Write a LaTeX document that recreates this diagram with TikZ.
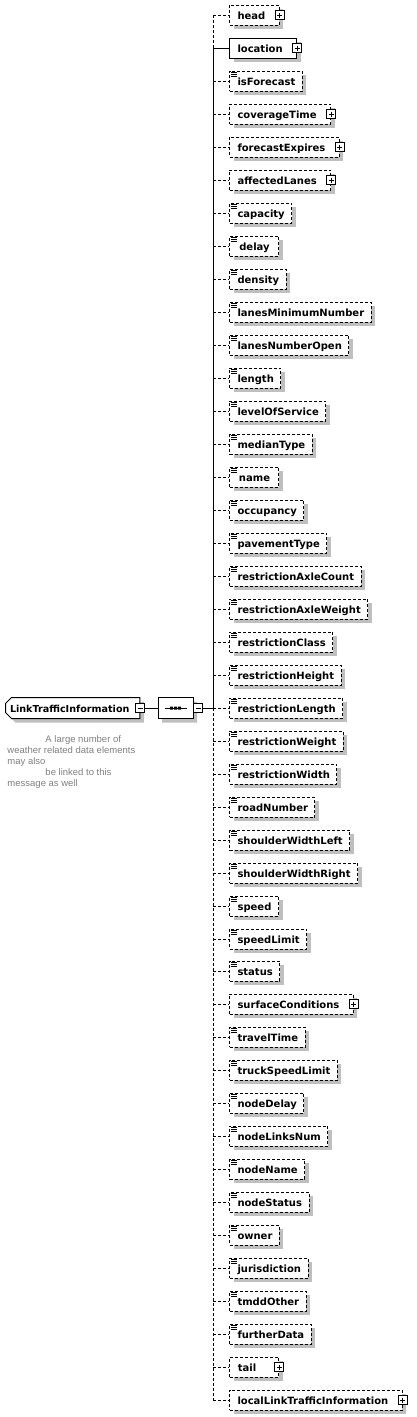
\documentclass[tikz,border=0pt]{standalone}
\usepackage{fontspec}
\setmainfont{DejaVu Sans}
\newfontfamily\notefont{Liberation Sans}
\usetikzlibrary{shapes.misc,shadows,positioning}

\begin{document}
\begin{tikzpicture}[
  x=1pt, y=-1pt, line width=1pt,
  boxshadow/.style={drop shadow={shadow xshift=4pt, shadow yshift=-4pt, fill=black!25, opacity=1}},
  elem/.style={
    rectangle, draw=black, fill=white, anchor=west, boxshadow,
    minimum width=49pt, minimum height=20pt, inner xsep=4pt, inner ysep=0pt,
    text height=9pt, text depth=1pt,
    font=\fontsize{10}{12}\selectfont\bfseries,
    execute at begin node={\hspace*{4pt}}
  },
  optel/.style={elem, dash pattern=on 3pt off 2pt},
  reqel/.style={elem},
  simpleel/.style={
    execute at end node={\hspace*{3pt}},
    path picture={
      \draw[solid, line width=0.9pt]
        ([xshift=1.5pt, yshift=-1.5pt]path picture bounding box.north west) -- ++(5.5pt,0)
        ([xshift=1.5pt, yshift=-3.5pt]path picture bounding box.north west) -- ++(5.5pt,0)
        ([xshift=1.5pt, yshift=-5.5pt]path picture bounding box.north west) -- ++(5.5pt,0);
    }
  },
  complexel/.style={execute at end node={\hspace*{10pt}}},
  signbox/.style={rectangle, draw=black, fill=white, solid, minimum size=9pt, inner sep=0pt, line width=0.9pt},
  plusbox/.style={signbox,
    path picture={
      \draw ([yshift=-2pt]path picture bounding box.north) -- ([yshift=2pt]path picture bounding box.south)
            ([xshift=2pt]path picture bounding box.west) -- ([xshift=-2pt]path picture bounding box.east);
    }},
  minusbox/.style={signbox,
    path picture={
      \draw ([xshift=2pt]path picture bounding box.west) -- ([xshift=-2pt]path picture bounding box.east);
    }},
  rootel/.style={
    chamfered rectangle, chamfered rectangle corners={north west, south west},
    chamfered rectangle xsep=3pt, chamfered rectangle ysep=3pt,
    draw=black, fill=white, anchor=west, boxshadow,
    minimum height=21pt, inner xsep=1.5pt, inner ysep=0pt,
    text height=9pt, text depth=1pt,
    font=\fontsize{9.6}{12}\selectfont\bfseries,
    execute at end node={\hspace*{6pt}}
  },
  seqel/.style={
    chamfered rectangle, chamfered rectangle xsep=5pt, chamfered rectangle ysep=5pt,
    draw=black, fill=white, boxshadow,
    minimum width=35pt, minimum height=21pt, inner sep=0pt
  },
  reqline/.style={draw=black},
  optline/.style={draw=black, dash pattern=on 3pt off 2pt},
  notetext/.style={font=\notefont\fontsize{9.5}{11}\selectfont, text=black!50, align=left, inner sep=0pt}
]
\useasboundingbox (0,0) rectangle (417,1417);

% Wurzel und Sequenz
\node[rootel] (root) at (5, 708) {LinkTrafficInformation};
\node[minusbox] (root-m) at (root.east) {};
\node[seqel] (seq) at (175.5, 708) {};
\node[minusbox] (seq-m) at ([xshift=4.5pt]seq.east) {};
\draw ([xshift=-11pt]seq.center) -- ([xshift=11pt]seq.center);
\fill ([xshift=-5.5pt, yshift=-1.5pt]seq.center) rectangle ++(3pt,3pt)
      ([xshift=-1.5pt, yshift=-1.5pt]seq.center) rectangle ++(3pt,3pt)
      ([xshift=2.5pt, yshift=-1.5pt]seq.center) rectangle ++(3pt,3pt);

\node[notetext, anchor=north west] (note) at (7, 735)
  {\hspace*{38pt}A large number of\\weather related data elements\\may also\\\hspace*{38pt}be linked to this\\message as well};

% Kindelemente
\node[optel, complexel] (head) at (229, 15) {head};
\node[reqel, complexel] (location) at (229, 48) {location};
\node[optel, simpleel] (isForecast) at (229, 81) {isForecast};
\node[optel, complexel] (coverageTime) at (229, 114) {coverageTime};
\node[optel, complexel] (forecastExpires) at (229, 147) {forecastExpires};
\node[optel, complexel] (affectedLanes) at (229, 180) {affectedLanes};
\node[optel, simpleel] (capacity) at (229, 213) {capacity};
\node[optel, simpleel] (delay) at (229, 246) {delay};
\node[optel, simpleel] (density) at (229, 279) {density};
\node[optel, simpleel] (lanesMinimumNumber) at (229, 312) {lanesMinimumNumber};
\node[optel, simpleel] (lanesNumberOpen) at (229, 345) {lanesNumberOpen};
\node[optel, simpleel] (length) at (229, 378) {length};
\node[optel, simpleel] (levelOfService) at (229, 411) {levelOfService};
\node[optel, simpleel] (medianType) at (229, 444) {medianType};
\node[optel, simpleel] (name) at (229, 477) {name};
\node[optel, simpleel] (occupancy) at (229, 510) {occupancy};
\node[optel, simpleel] (pavementType) at (229, 543) {pavementType};
\node[optel, simpleel] (restrictionAxleCount) at (229, 576) {restrictionAxleCount};
\node[optel, simpleel] (restrictionAxleWeight) at (229, 609) {restrictionAxleWeight};
\node[optel, simpleel] (restrictionClass) at (229, 642) {restrictionClass};
\node[optel, simpleel] (restrictionHeight) at (229, 675) {restrictionHeight};
\node[optel, simpleel] (restrictionLength) at (229, 708) {restrictionLength};
\node[optel, simpleel] (restrictionWeight) at (229, 741) {restrictionWeight};
\node[optel, simpleel] (restrictionWidth) at (229, 774) {restrictionWidth};
\node[optel, simpleel] (roadNumber) at (229, 807) {roadNumber};
\node[optel, simpleel] (shoulderWidthLeft) at (229, 840) {shoulderWidthLeft};
\node[optel, simpleel] (shoulderWidthRight) at (229, 873) {shoulderWidthRight};
\node[optel, simpleel] (speed) at (229, 906) {speed};
\node[optel, simpleel] (speedLimit) at (229, 939) {speedLimit};
\node[optel, simpleel] (status) at (229, 971) {status};
\node[optel, complexel] (surfaceConditions) at (229, 1004) {surfaceConditions};
\node[optel, simpleel] (travelTime) at (229, 1037) {travelTime};
\node[optel, simpleel] (truckSpeedLimit) at (229, 1070) {truckSpeedLimit};
\node[optel, simpleel] (nodeDelay) at (229, 1103) {nodeDelay};
\node[optel, simpleel] (nodeLinksNum) at (229, 1136) {nodeLinksNum};
\node[optel, simpleel] (nodeName) at (229, 1169) {nodeName};
\node[optel, simpleel] (nodeStatus) at (229, 1202) {nodeStatus};
\node[optel, simpleel] (owner) at (229, 1235) {owner};
\node[optel, simpleel] (jurisdiction) at (229, 1268) {jurisdiction};
\node[optel, simpleel] (tmddOther) at (229, 1301) {tmddOther};
\node[optel, simpleel] (furtherData) at (229, 1334) {furtherData};
\node[optel, complexel] (tail) at (229, 1367) {tail\hspace*{8pt}};
\node[optel, complexel] (localLinkTrafficInformation) at (229, 1400) {localLinkTrafficInformation};

% Plus-Kaestchen
\node[plusbox] (head-p) at (head.east) {};
\node[plusbox] (location-p) at (location.east) {};
\node[plusbox] (coverageTime-p) at (coverageTime.east) {};
\node[plusbox] (forecastExpires-p) at (forecastExpires.east) {};
\node[plusbox] (affectedLanes-p) at (affectedLanes.east) {};
\node[plusbox] (surfaceConditions-p) at (surfaceConditions.east) {};
\node[plusbox] (tail-p) at (tail.east) {};
\node[plusbox] (localLinkTrafficInformation-p) at (localLinkTrafficInformation.east) {};

% Verbindungen
\coordinate (bus) at (213, 708);
\draw[reqline] (root-m.east) -- (seq.west);
\draw[reqline] (seq-m.east) -- (bus);
\draw[optline] (bus |- head.west) -- (bus |- location.west);
\draw[reqline] (bus |- location.west) -- (bus);
\draw[optline] (bus) -- (bus |- localLinkTrafficInformation.west);
\draw[reqline] (bus |- location.west) -- (location.west);
\foreach \el in {head, isForecast, coverageTime, forecastExpires, affectedLanes, capacity, delay, density,
  lanesMinimumNumber, lanesNumberOpen, length, levelOfService, medianType, name, occupancy, pavementType,
  restrictionAxleCount, restrictionAxleWeight, restrictionClass, restrictionHeight, restrictionLength,
  restrictionWeight, restrictionWidth, roadNumber, shoulderWidthLeft, shoulderWidthRight, speed, speedLimit,
  status, surfaceConditions, travelTime, truckSpeedLimit, nodeDelay, nodeLinksNum, nodeName, nodeStatus,
  owner, jurisdiction, tmddOther, furtherData, tail, localLinkTrafficInformation}
  \draw[optline] (bus |- \el.west) -- (\el.west);

\end{tikzpicture}
\end{document}
